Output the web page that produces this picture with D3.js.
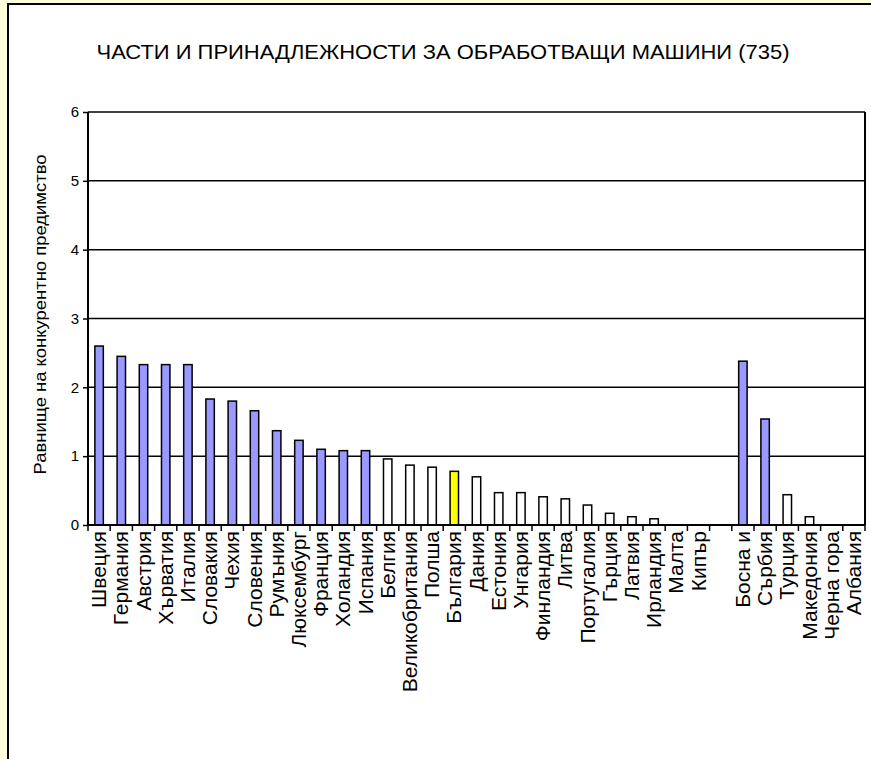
<!DOCTYPE html>
<html>
<head>
<meta charset="utf-8">
<script src="https://cdn.jsdelivr.net/npm/d3@7"></script>
<style>
  body { margin: 0; background: #FFFFDD; }
  svg { display: block; font-family: "Liberation Sans", Arial, sans-serif; }
</style>
</head>
<body>
<div id="chart"></div>
<script>
// data
const title = "ЧАСТИ И ПРИНАДЛЕЖНОСТИ ЗА ОБРАБОТВАЩИ МАШИНИ (735)";
const yLabel = "Равнище на конкурентно предимство";
const countries = ["Швеция", "Германия", "Австрия", "Хърватия", "Италия", "Словакия", "Чехия",
  "Словения", "Румъния", "Люксембург", "Франция", "Холандия", "Испания", "Белгия",
  "Великобритания", "Полша", "България", "Дания", "Естония", "Унгария", "Финландия",
  "Литва", "Португалия", "Гърция", "Латвия", "Ирландия", "Малта", "Кипър", "",
  "Босна и", "Сърбия", "Турция", "Македония", "Черна гора", "Албания"];
const values = [2.60, 2.45, 2.33, 2.33, 2.33, 1.83, 1.80, 1.66, 1.37, 1.23, 1.10, 1.08, 1.08, 0.96,
  0.87, 0.84, 0.78, 0.70, 0.47, 0.47, 0.41, 0.38, 0.29, 0.17, 0.12, 0.09, 0, 0, null,
  2.38, 1.54, 0.44, 0.12, 0, 0];
const yTicks = [0, 1, 2, 3, 4, 5, 6];
const highlight = "България";

const W = 871, H = 759;
const plot = { left: 88, right: 865, top: 112, bottom: 525 };

const svg = d3.select("#chart").append("svg")
    .attr("width", W)
    .attr("height", H);

// frame: pale yellow page, white chart area with a black edge
svg.append("rect").attr("width", W).attr("height", H).attr("fill", "#FFFFDD");
svg.append("rect")
    .attr("x", 8).attr("y", 4)
    .attr("width", W + 10).attr("height", H + 10)
    .attr("fill", "#fff")
    .attr("stroke", "#000")
    .attr("stroke-width", 2);

svg.append("text")
    .attr("x", 443)
    .attr("y", 59)
    .attr("text-anchor", "middle")
    .style("font-size", "21px")
    .attr("textLength", 693)
    .attr("lengthAdjust", "spacingAndGlyphs")
    .text(title);

const idx = countries.map((d, i) => i);
const x = d3.scaleBand()
    .domain(idx)
    .range([plot.left, plot.right]);
const y = d3.scaleLinear()
    .domain([0, 6])
    .range([plot.bottom, plot.top]);

// gridlines
svg.append("g")
  .selectAll("line")
  .data(yTicks.filter(d => d > 0))
  .join("line")
    .attr("x1", plot.left).attr("x2", plot.right)
    .attr("y1", d => y(d)).attr("y2", d => y(d))
    .attr("stroke", "#000")
    .attr("stroke-width", 1.5);

// right edge of the plot
svg.append("line")
    .attr("x1", plot.right).attr("x2", plot.right)
    .attr("y1", plot.top).attr("y2", plot.bottom)
    .attr("stroke", "#000")
    .attr("stroke-width", 2);

// bars
const barW = x.step() * 0.38;
svg.append("g")
  .selectAll("rect")
  .data(idx.filter(i => values[i]))
  .join("rect")
    .attr("x", i => x(i) + (x.step() - barW) / 2)
    .attr("y", i => y(values[i]))
    .attr("width", barW)
    .attr("height", i => y(0) - y(values[i]))
    .attr("fill", i => countries[i] === highlight ? "#FFFF00" : values[i] > 1 ? "#9999FF" : "#FFFFFF")
    .attr("stroke", "#000")
    .attr("stroke-width", 1.5);

// y axis
const yAxis = svg.append("g")
    .attr("transform", `translate(${plot.left},0)`)
    .call(d3.axisLeft(y).tickValues(yTicks).tickSize(5).tickPadding(4).tickFormat(d3.format("d")));
yAxis.select(".domain").attr("stroke-width", 2).attr("d", `M0,${plot.top}V${plot.bottom}`);
yAxis.selectAll(".tick line").attr("stroke-width", 1.5);
yAxis.selectAll("text")
    .style("font-size", "15px")
    .style("font-family", "'Liberation Sans', Arial, sans-serif")
    .attr("fill", "#000");

// x axis: tick marks on category boundaries
const xg = svg.append("g");
xg.append("line")
    .attr("x1", plot.left).attr("x2", plot.right)
    .attr("y1", plot.bottom).attr("y2", plot.bottom)
    .attr("stroke", "#000").attr("stroke-width", 2);
xg.selectAll("line.tk")
  .data(idx.concat([countries.length]))
  .join("line")
    .attr("class", "tk")
    .attr("x1", i => plot.left + i * x.step())
    .attr("x2", i => plot.left + i * x.step())
    .attr("y1", plot.bottom).attr("y2", plot.bottom + 6)
    .attr("stroke", "#000").attr("stroke-width", 1.5);
xg.selectAll("text")
  .data(idx)
  .join("text")
    .attr("transform", i => `translate(${x(i) + x.step() / 2 + 7},${plot.bottom + 6}) rotate(-90)`)
    .attr("text-anchor", "end")
    .style("font-size", "21px")
    .text(i => countries[i]);

svg.append("text")
    .attr("transform", `translate(46,${(plot.top + plot.bottom) / 2 - 4}) rotate(-90)`)
    .attr("text-anchor", "middle")
    .style("font-size", "16px")
    .attr("textLength", 320)
    .attr("lengthAdjust", "spacingAndGlyphs")
    .text(yLabel);
</script>
</body>
</html>
